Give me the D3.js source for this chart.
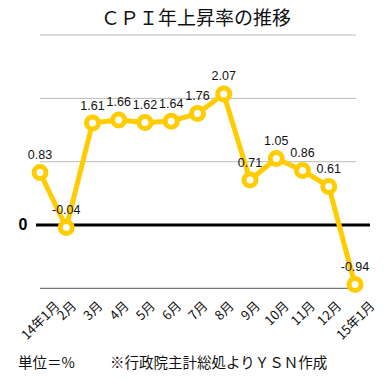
<!DOCTYPE html>
<html><head><meta charset="utf-8">
<script src="https://cdn.jsdelivr.net/npm/d3@7"></script>
<style>
body{margin:0;background:#fff;}
svg{display:block;font-family:"Liberation Sans","Noto Sans CJK JP",sans-serif;}
</style></head>
<body>
<svg id="c" width="384" height="379"></svg>
<script>
const title = "ＣＰＩ年上昇率の推移";
const categories = ["14年1月","2月","3月","4月","5月","6月","7月","8月","9月","10月","11月","12月","15年1月"];
const values = [0.83,-0.04,1.61,1.66,1.62,1.64,1.76,2.07,0.71,1.05,0.86,0.61,-0.94];
const gridValues = [1,2];
const unitNote = "単位＝%";
const sourceNote = "※行政院主計総処よりＹＳＮ作成";

const svg = d3.select("#c");
const x = d3.scalePoint().domain(categories).range([40,355]);
const y = d3.scaleLinear().domain([-1,2]).range([288.3,98.4]);
const yellow = "#FFCC00";
const cjk = "'Noto Sans CJK JP',sans-serif";

svg.append("text").attr("x",196).attr("y",25).attr("text-anchor","middle")
  .attr("font-size",19).attr("font-family",cjk).attr("fill","#111").text(title);
svg.append("line").attr("x1",40).attr("x2",356).attr("y1",35).attr("y2",35).attr("stroke","#bbb").attr("stroke-width",1);

// gridlines
svg.selectAll(".grid").data(gridValues).join("line")
  .attr("x1",40).attr("x2",356).attr("y1",d=>y(d)).attr("y2",d=>y(d))
  .attr("stroke","#bbb").attr("stroke-width",1);
// bottom axis
const xAxis = svg.append("g").attr("transform",`translate(0,${y(-1)})`)
  .call(d3.axisBottom(x).tickSize(0).tickPadding(0));
xAxis.select(".domain").attr("d",`M40,0H356`).attr("stroke","#555").attr("stroke-width",1);
const topY = 299 - y(-1);
xAxis.selectAll(".tick text")
  .attr("font-size",13).attr("font-family",cjk).attr("fill","#111")
  .attr("text-anchor","middle").attr("y",0).attr("dy","0.35em")
  .attr("transform",function(){
    const w = this.getComputedTextLength();
    const h = 13;
    return `translate(0,${topY + (w+h)*0.3536}) rotate(-45)`;
  });
// zero line
svg.append("line").attr("x1",36).attr("x2",370).attr("y1",y(0)).attr("y2",y(0))
  .attr("stroke","#000").attr("stroke-width",3);
svg.append("text").attr("x",23).attr("y",y(0)+5).attr("text-anchor","middle")
  .attr("font-size",16).attr("font-weight","bold").attr("fill","#000").text("0");

// line
const line = d3.line().x((d,i)=>x(categories[i])).y(d=>y(d));
svg.append("path").datum(values).attr("d",line).attr("fill","none")
  .attr("stroke",yellow).attr("stroke-width",5).attr("stroke-linejoin","round");
svg.selectAll(".pt").data(values).join("circle")
  .attr("cx",(d,i)=>x(categories[i])).attr("cy",d=>y(d)).attr("r",6)
  .attr("fill","#fff").attr("stroke",yellow).attr("stroke-width",5);
svg.selectAll(".lbl").data(values).join("text")
  .attr("x",(d,i)=>x(categories[i])).attr("y",d=>y(d)-13.5).attr("text-anchor","middle")
  .attr("font-size",12.5).attr("fill","#111").text(d=>d.toFixed(2));

svg.append("text").attr("x",18).attr("y",368).attr("font-size",14.5)
  .attr("font-family",cjk).attr("fill","#111").text(unitNote);
svg.append("text").attr("x",110).attr("y",368).attr("font-size",14.5)
  .attr("font-family",cjk).attr("fill","#111").text(sourceNote);
</script>
</body></html>
